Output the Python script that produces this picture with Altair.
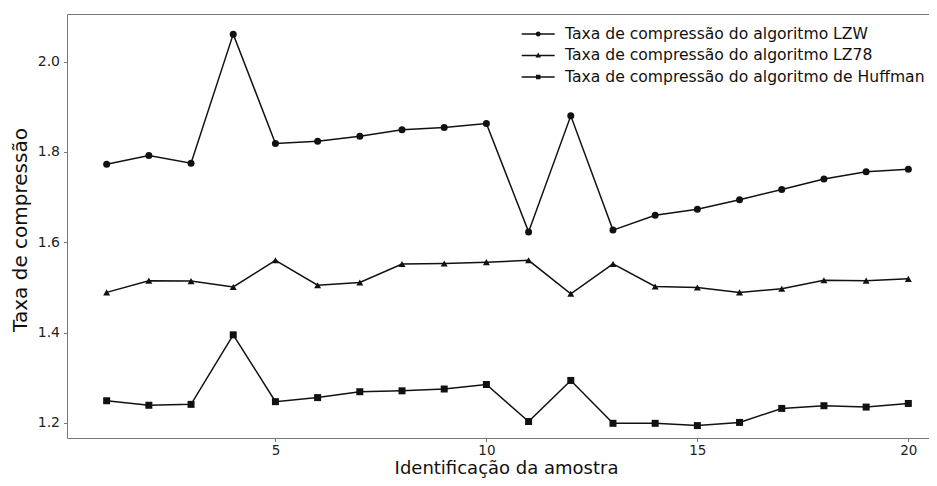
import altair as alt
import pandas as pd

amostra = list(range(1, 21))
lzw = [1.773, 1.792, 1.775, 2.061, 1.819, 1.824, 1.835, 1.849, 1.854, 1.863,
       1.623, 1.880, 1.627, 1.660, 1.673, 1.694, 1.717, 1.740, 1.756, 1.762]
lz78 = [1.489, 1.515, 1.514, 1.501, 1.560, 1.505, 1.511, 1.552, 1.553, 1.556,
        1.560, 1.486, 1.552, 1.502, 1.500, 1.489, 1.497, 1.516, 1.515, 1.519]
huffman = [1.249, 1.239, 1.241, 1.395, 1.247, 1.256, 1.269, 1.271, 1.275, 1.285,
           1.203, 1.294, 1.199, 1.199, 1.194, 1.201, 1.232, 1.238, 1.235, 1.243]
series_names = ["Taxa de compressão do algoritmo LZW",
                "Taxa de compressão do algoritmo LZ78",
                "Taxa de compressão do algoritmo de Huffman"]
x_ticks = [5, 10, 15, 20]
y_ticks = [1.2, 1.4, 1.6, 1.8, 2.0]

rows = []
for name, vals in zip(series_names, [lzw, lz78, huffman]):
    for a, v in zip(amostra, vals):
        rows.append({"amostra": a, "taxa": v, "serie": name})
df = pd.DataFrame(rows)

FONT = "DejaVu Sans"
INK = "#111111"
AX = "#777777"

xscale = alt.Scale(domain=[0.06, 20.49], nice=False, zero=False)
yscale = alt.Scale(domain=[1.1665, 2.1056], nice=False, zero=False)

x_bottom = alt.X("amostra:Q", scale=xscale,
                 axis=alt.Axis(values=x_ticks, format="d", title="Identificação da amostra",
                               titleFontSize=18, titleFont=FONT, titleFontWeight="normal",
                               titleColor=INK, titleX=439, titleY=35.7,
                               titleBaseline="alphabetic", titleAlign="center",
                               labelFontSize=13.5, labelFont=FONT, labelColor="#222",
                               labelPadding=1.5, tickSize=3.5, tickColor=AX,
                               domainColor=AX, domainWidth=1, grid=False))
y_left = alt.Y("taxa:Q", scale=yscale,
               axis=alt.Axis(values=y_ticks, format=".1f", title="Taxa de compressão",
                             titleFontSize=20, titleFont=FONT, titleFontWeight="normal",
                             titleColor=INK, titleX=-41, titleY=215.5, titleAngle=-90,
                             titleBaseline="alphabetic", titleAlign="center",
                             labelFontSize=14, labelFont=FONT, labelColor="#222",
                             labelPadding=4, tickSize=3.5, tickColor=AX,
                             domainColor=AX, domainWidth=1, grid=False))

lines = alt.Chart(df).mark_line(color=INK, strokeWidth=1.5).encode(
    x=x_bottom, y=y_left, detail="serie:N",
    order="amostra:Q")

points = alt.Chart(df).mark_point(filled=True, color=INK, opacity=1, size=49).encode(
    x=alt.X("amostra:Q", scale=xscale,
            axis=alt.Axis(orient="top", labels=False, ticks=False, title=None,
                          domainColor=AX, domainWidth=1, grid=False)),
    y=alt.Y("taxa:Q", scale=yscale),
    shape=alt.Shape("serie:N",
                    scale=alt.Scale(domain=series_names,
                                    range=["circle", "triangle-up", "square"]),
                    legend=None))

# legend glyphs: short line with a marker in the middle (path units scaled by 5 px)
seg = "M-3.3,-0.15H3.3V0.15H-3.3Z"
legend_paths = [
    seg + "M0.5,0A0.5,0.5 0 1,1 -0.5,0A0.5,0.5 0 1,1 0.5,0Z",
    seg + "M0,-0.6L0.55,0.4L-0.55,0.4Z",
    seg + "M-0.45,-0.45H0.45V0.45H-0.45Z",
]

legend_layer = alt.Chart(df).transform_filter("datum.amostra < 0").mark_point(
    filled=True, color=INK).encode(
    x=alt.X("amostra:Q", scale=xscale, axis=None),
    y=alt.Y("taxa:Q", scale=yscale),
    shape=alt.Shape("serie:N",
                    scale=alt.Scale(domain=series_names, range=legend_paths),
                    legend=alt.Legend(title=None, orient="none", legendX=463.4, legendY=12.3,
                                      padding=0, symbolSize=100, symbolStrokeWidth=0,
                                      symbolFillColor=INK,
                                      symbolOpacity=1, labelFontSize=15.6, labelFont=FONT,
                                      labelColor=INK, labelOffset=19, rowPadding=4.4,
                                      labelLimit=500)))

chart = alt.layer(lines, points, legend_layer).resolve_axis(
    x="independent"
).resolve_scale(shape="independent").resolve_legend(shape="independent").properties(
    width=862, height=424,
    autosize=alt.AutoSizeParams(type="none"),
    padding={"left": 59, "top": 6, "right": 0, "bottom": 40},
    background="white",
).configure_view(strokeWidth=0, stroke="transparent")

chart.save("out.html", embed_options={"renderer": "svg", "actions": False})
